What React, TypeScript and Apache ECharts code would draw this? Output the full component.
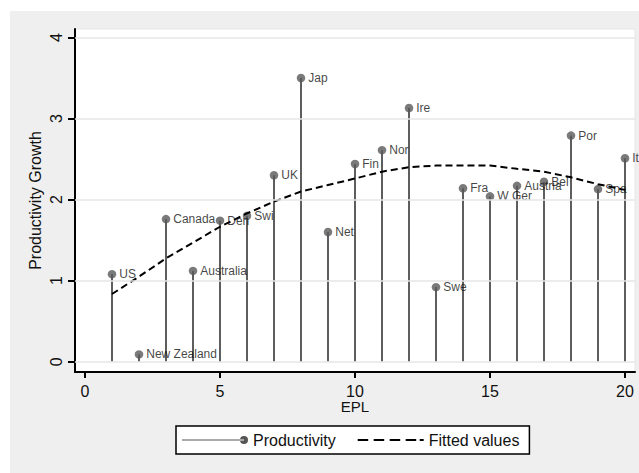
import React, { useEffect, useRef } from "react";
import * as echarts from "echarts";

const countries = ["US", "New Zealand", "Canada", "Australia", "Den", "Swi", "UK", "Jap", "Net", "Fin", "Nor", "Ire", "Swe", "Fra", "W Ger", "Austria", "Bel", "Por", "Spa", "Ita"];
const epl = [1, 2, 3, 4, 5, 6, 7, 8, 9, 10, 11, 12, 13, 14, 15, 16, 17, 18, 19, 20];
const productivity = [1.08, 0.09, 1.76, 1.12, 1.74, 1.8, 2.3, 3.5, 1.6, 2.44, 2.61, 3.13, 0.92, 2.14, 2.04, 2.17, 2.22, 2.79, 2.13, 2.51];
const fitted = [0.835, 1.05, 1.275, 1.47, 1.665, 1.83, 1.975, 2.1, 2.18, 2.26, 2.345, 2.4, 2.42, 2.42, 2.42, 2.38, 2.345, 2.275, 2.19, 2.12];
const xTicks = [0, 5, 10, 15, 20];
const yTicks = [0, 1, 2, 3, 4];

const FONT = "'Liberation Sans', Arial, Helvetica, sans-serif";
const STEM = "#5e5e5e";

export default function App() {
  const ref = useRef<HTMLDivElement>(null);
  useEffect(() => {
    if (!ref.current) return;
    const chart = echarts.init(ref.current, null, { renderer: "svg" });
    const lollipop = epl.map((x, i) => ({ value: [x, productivity[i]], name: countries[i] }));
    const fitData = epl.map((x, i) => [x, fitted[i]]);
    chart.setOption({
      animation: false,
      backgroundColor: "#ffffff",
      textStyle: { fontFamily: FONT },
      graphic: [
        { type: "rect", z: -1, shape: { x: 10, y: 11, width: 629, height: 462 }, style: { fill: "#efefef" } },
      ],
      grid: {
        left: 75,
        right: 4,
        top: 29,
        bottom: 101,
        show: true,
        backgroundColor: "#ffffff",
        borderColor: "#e6e6e6",
        borderWidth: 1,
      },
      xAxis: {
        type: "value",
        min: -0.37,
        max: 20.37,
        name: "EPL",
        nameLocation: "middle",
        nameGap: 27,
        nameMoveOverlap: false,
        nameTextStyle: { fontSize: 15, color: "#111", fontFamily: FONT },
        axisLine: { show: true, onZero: false, lineStyle: { color: "#000", width: 2 } },
        axisTick: { show: true, length: 6, customValues: xTicks, lineStyle: { color: "#000", width: 2 } },
        axisLabel: { customValues: xTicks, fontSize: 16, color: "#111", margin: 11, fontFamily: FONT },
        splitLine: { show: false },
      },
      yAxis: {
        type: "value",
        min: -0.127,
        max: 4.105,
        name: "Productivity Growth",
        nameLocation: "middle",
        nameGap: 32,
        nameMoveOverlap: false,
        nameTextStyle: { fontSize: 16, color: "#111", fontFamily: FONT },
        axisLine: { show: true, onZero: false, lineStyle: { color: "#000", width: 2 } },
        axisTick: { show: true, length: 7, customValues: yTicks, lineStyle: { color: "#000", width: 2 } },
        axisLabel: { customValues: yTicks, fontSize: 16, color: "#111", rotate: 90, margin: 11, fontFamily: FONT },
        splitLine: { show: false },
      },
      legend: {
        left: 176,
        top: 426,
        orient: "horizontal",
        backgroundColor: "#ffffff",
        borderColor: "#000000",
        borderWidth: 1.5,
        borderRadius: 0,
        padding: [6, 10, 6, 6],
        itemGap: 22,
        itemWidth: 66,
        itemHeight: 8,
        textStyle: { fontSize: 16, color: "#111", fontFamily: FONT },
        data: [
          {
            name: "Productivity",
            icon: "path://M0,3.4 H62 V4.6 H0 Z M58,4 A4,4 0 1,0 66,4 A4,4 0 1,0 58,4 Z",
            itemStyle: { color: "#555" },
          },
          {
            name: "Fitted values",
            icon: "path://M0,0 H10.5 V2 H0 Z M16,0 H26.5 V2 H16 Z M32,0 H42.5 V2 H32 Z M48,0 H58.5 V2 H48 Z M62,0 H66 V2 H62 Z",
            itemStyle: { color: "#000" },
          },
        ],
      },
      series: [
        {
          name: "grid",
          type: "line",
          data: [],
          z: 1,
          silent: true,
          markLine: {
            silent: true,
            symbol: "none",
            label: { show: false },
            lineStyle: { color: "#e6e6e6", width: 1.5, type: "solid" },
            data: yTicks.map((v) => ({ yAxis: v })),
          },
        },
        {
          name: "Productivity",
          type: "bar",
          data: epl.map((x, i) => [x, productivity[i]]),
          barWidth: 2,
          itemStyle: { color: STEM },
          z: 2,
        },
        {
          name: "Productivity",
          type: "scatter",
          data: lollipop,
          symbol: "circle",
          symbolSize: 8.5,
          itemStyle: { color: "#595959" },
          z: 3,
          label: {
            show: true,
            position: "right",
            distance: 3,
            formatter: (p: any) => p.name,
            fontSize: 12,
            color: "#111",
            fontFamily: FONT,
          },
        },
        {
          name: "Fitted values",
          type: "line",
          data: fitData,
          showSymbol: false,
          symbol: "none",
          lineStyle: { color: "#000", width: 2, type: [7, 4] },
          itemStyle: { color: "#000" },
          z: 4,
        },
      ],
    });
    return () => chart.dispose();
  }, []);
  return <div ref={ref} style={{ position: "fixed", left: 0, top: 0, width: 639, height: 473 }} />;
}
